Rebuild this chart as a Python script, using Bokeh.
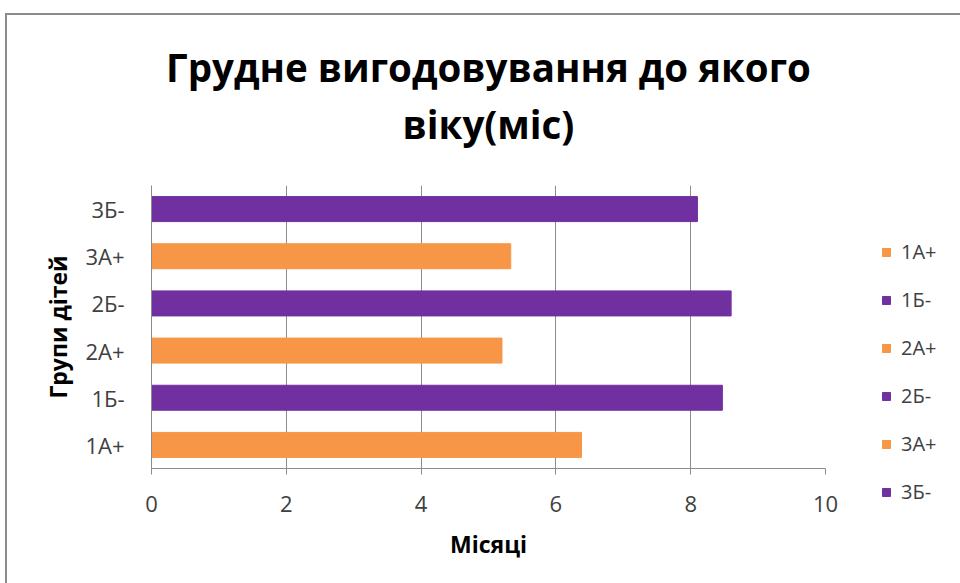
from bokeh.plotting import figure
from bokeh.layouts import row
from bokeh.models import (ColumnDataSource, FactorRange, Range1d, Title, Legend,
                          LegendItem, FixedTicker)
from bokeh.embed import file_html
from bokeh.resources import INLINE

# Breastfeeding duration (months) by group of children
groups = ["1А+", "1Б-", "2А+", "2Б-", "3А+", "3Б-"]
months = [6.38, 8.47, 5.2, 8.6, 5.33, 8.1]
colors = ["#F79646", "#7030A0", "#F79646", "#7030A0", "#F79646", "#7030A0"]
x_ticks = [0, 2, 4, 6, 8, 10]
title_lines = ["Грудне вигодовування до якого", "віку(міс)"]

FONT = "Open Sans"
GRID = "#8c8c8c"
LABEL = "#404040"
EDGE = "2px solid #8c8c8c"

source = ColumnDataSource(dict(group=groups, months=months, color=colors))

# ---- main chart -------------------------------------------------------------
p = figure(width=848, height=570, output_backend="svg", toolbar_location=None,
           y_range=FactorRange(*groups, range_padding=0), x_range=Range1d(0, 10),
           min_border_left=144, min_border_right=30, min_border_top=170,
           min_border_bottom=117, margin=(13, 0, 0, 5), frame_align=False,
           styles={"border-top": EDGE, "border-left": EDGE})
p.title = None
p.outline_line_color = None

p.hbar(y="group", right="months", height=0.53, left=0, color="color",
       line_color="color", source=source)

# two title lines, the lower one added first (closest to the plot area)
p.add_layout(Title(text=title_lines[1], align="center", text_font=FONT,
                   text_font_size="38.5px", text_font_style="bold",
                   text_color="#000000", standoff=72), "above")
p.add_layout(Title(text=title_lines[0], align="center", text_font=FONT,
                   text_font_size="38.5px", text_font_style="bold",
                   text_color="#000000", standoff=-67), "above")

# x axis
xa = p.xaxis[0]
xa.ticker = FixedTicker(ticks=x_ticks)
xa.axis_label = "Місяці"
xa.axis_label_text_font = FONT
xa.axis_label_text_font_size = "23px"
xa.axis_label_text_font_style = "bold"
xa.axis_label_text_color = "#000000"
xa.axis_label_standoff = 13
xa.major_label_text_font = FONT
xa.major_label_text_font_size = "22px"
xa.major_label_text_color = LABEL
xa.major_label_standoff = 21
xa.axis_line_color = GRID
xa.major_tick_line_color = GRID
xa.major_tick_out = 6
xa.major_tick_in = 0
xa.minor_tick_line_color = None

# y axis
ya = p.yaxis[0]
ya.axis_label = "Групи дітей"
ya.axis_label_text_font = FONT
ya.axis_label_text_font_size = "23px"
ya.axis_label_text_font_style = "bold"
ya.axis_label_text_color = "#000000"
ya.axis_label_standoff = 8
ya.major_label_text_font = FONT
ya.major_label_text_font_size = "22px"
ya.major_label_text_color = LABEL
ya.major_label_standoff = 21
ya.axis_line_color = GRID
ya.major_tick_line_color = None
ya.minor_tick_line_color = None

p.xgrid.grid_line_color = GRID
p.xgrid.ticker = FixedTicker(ticks=x_ticks)
p.ygrid.grid_line_color = None

# ---- legend strip -------------------------------------------------------------
leg = figure(width=107, height=570, output_backend="svg", toolbar_location=None,
             x_range=Range1d(0, 1), y_range=FactorRange(*groups),
             x_axis_type=None, y_axis_type=None, min_border=0, frame_align=False,
             margin=(13, 0, 0, 0), styles={"border-top": EDGE})
leg.title = None
leg.outline_line_color = None
leg.grid.grid_line_color = None
# swatch source: same groups and colours, bars kept outside the visible x range
swatches = leg.hbar(y="group", left=2, right=3, height=0.5, color="color",
                    line_color="color", source=source)

items = [LegendItem(label=g, renderers=[swatches], index=i) for i, g in enumerate(groups)]
legend = Legend(items=items, location=(28, 80), glyph_width=10, glyph_height=10,
                label_text_font=FONT, label_text_font_size="20px", label_height=20,
                label_text_color=LABEL, label_standoff=10, spacing=21,
                border_line_color=None, background_fill_alpha=0, padding=0, margin=0)
leg.add_layout(legend)

layout = row(p, leg, spacing=0)
open("out.html", "w").write(file_html(layout, INLINE))
